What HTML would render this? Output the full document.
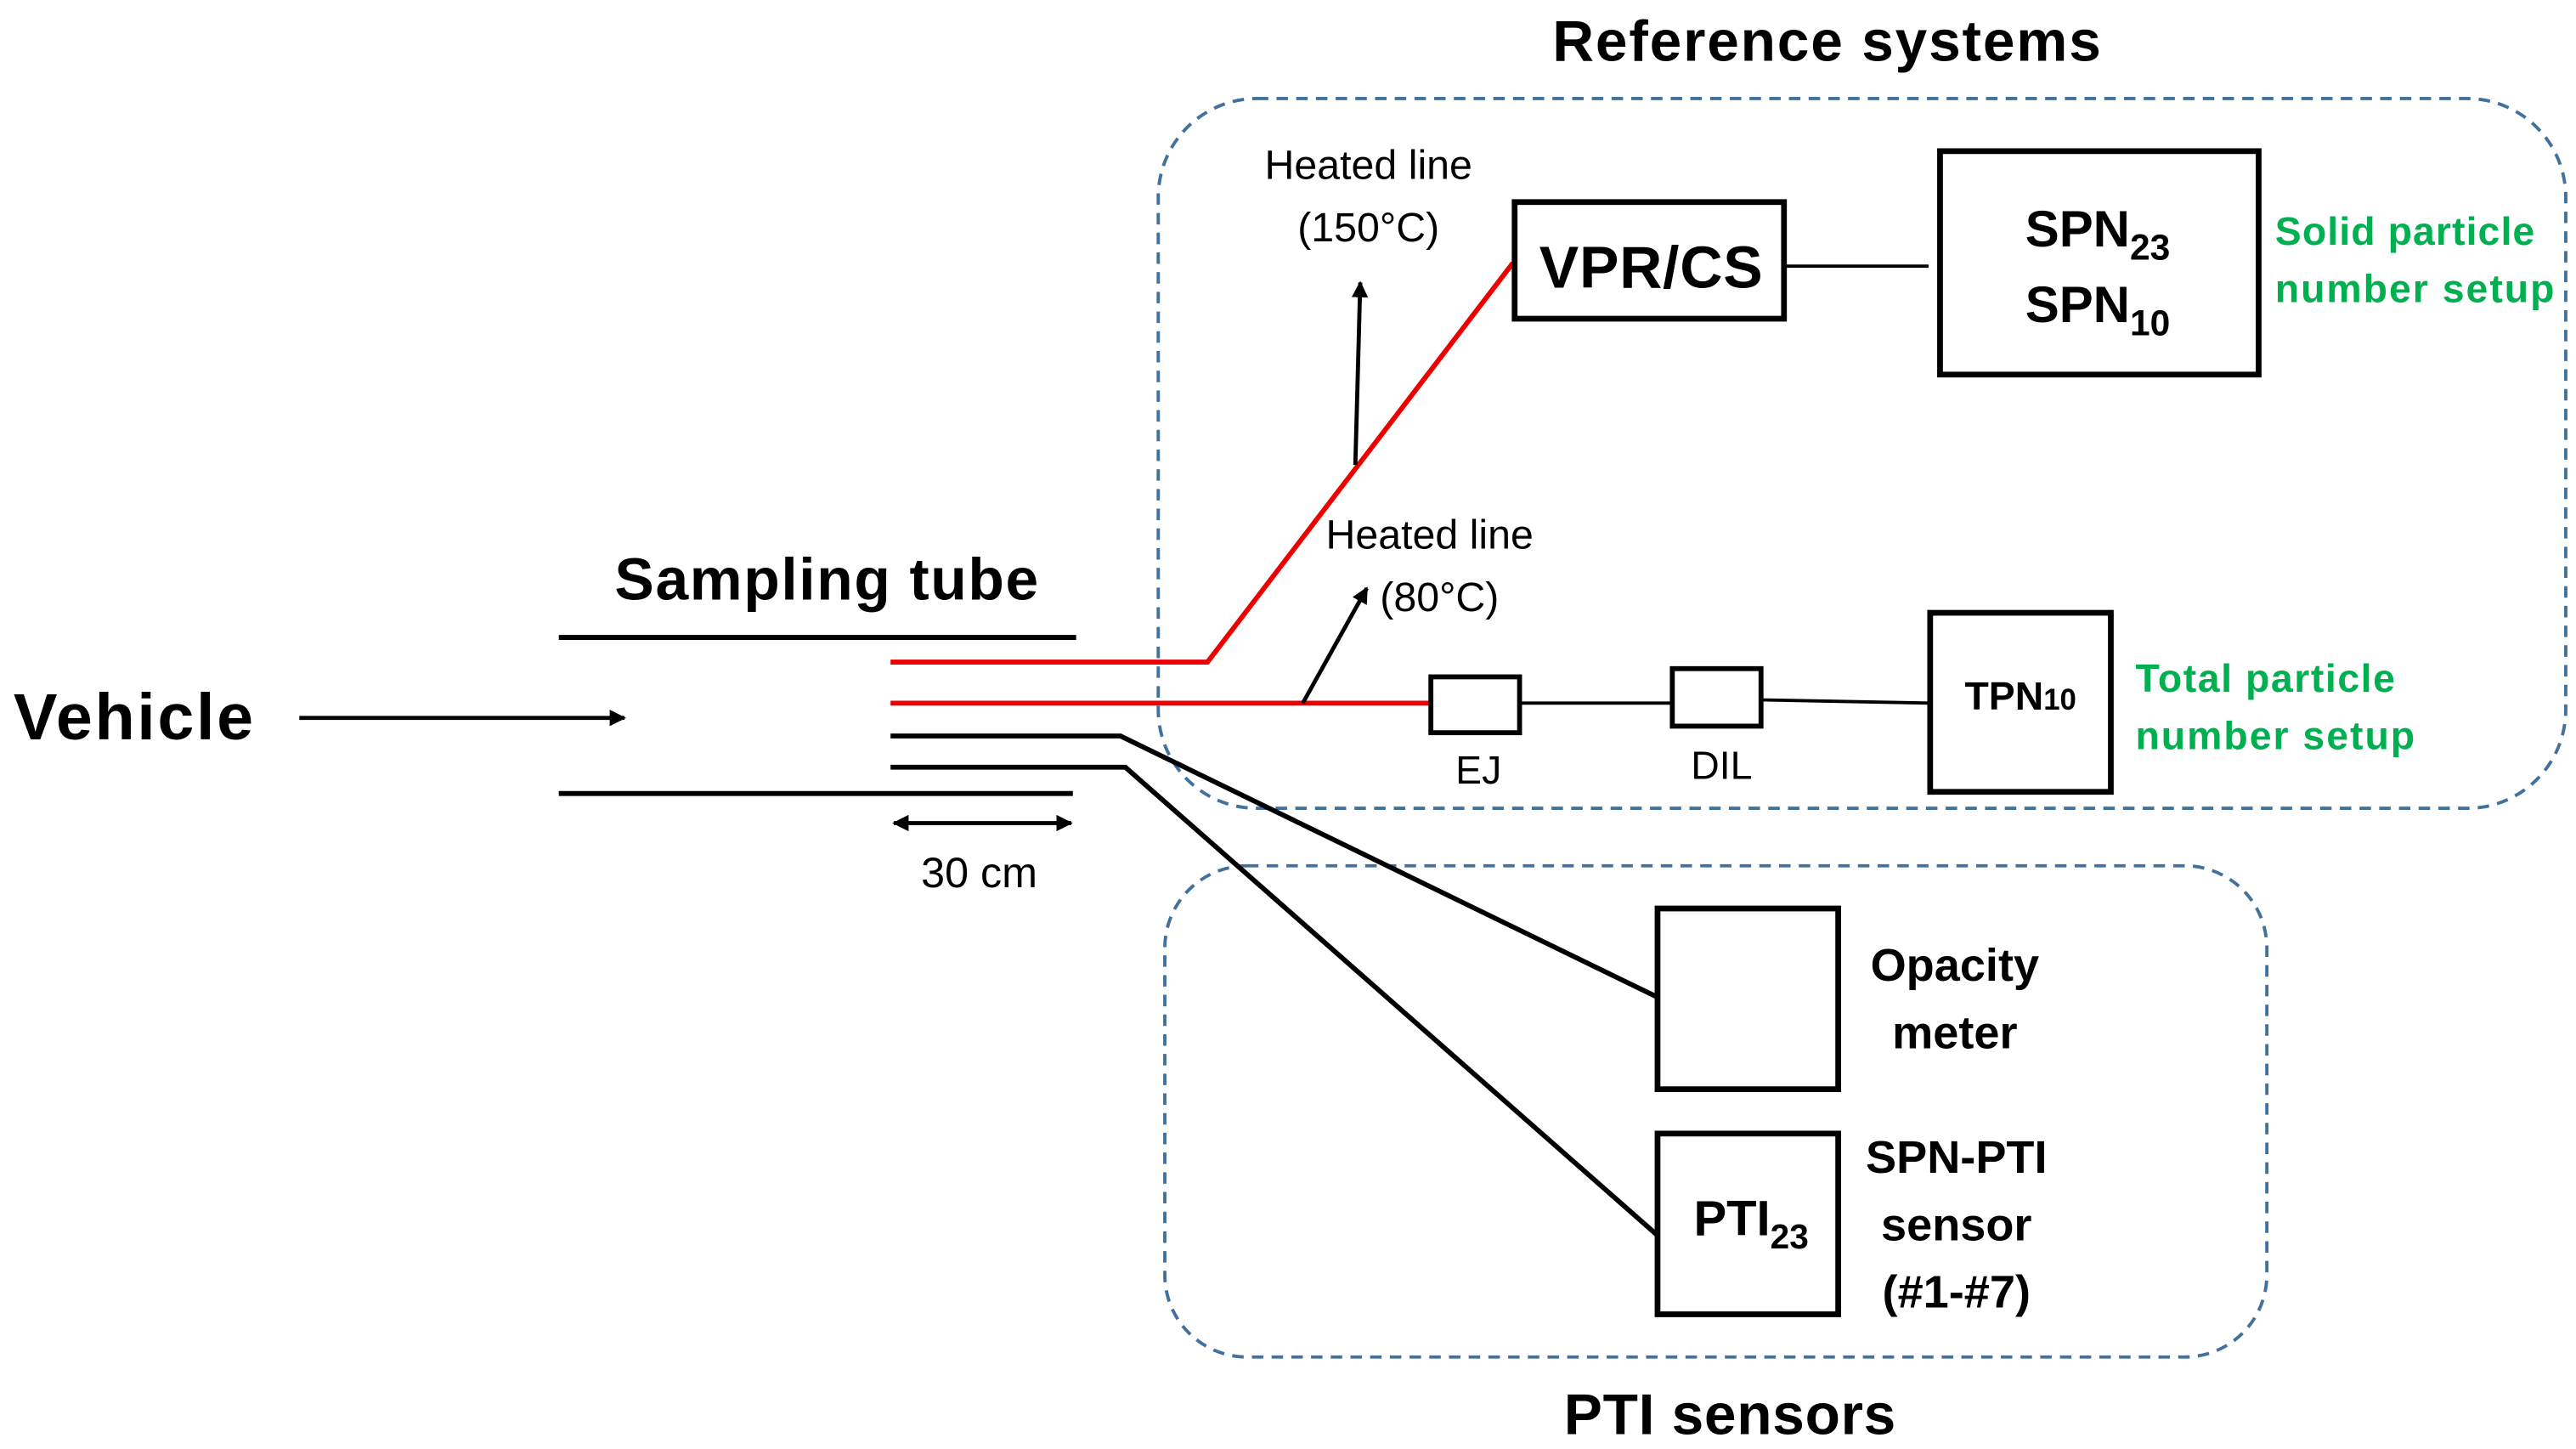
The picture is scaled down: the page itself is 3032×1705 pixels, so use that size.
<!DOCTYPE html>
<html><head><meta charset="utf-8"><style>
html,body{margin:0;padding:0;background:#fff;}
svg{display:block;}
text{font-family:"Liberation Sans","DejaVu Sans",sans-serif;}
.b{font-weight:bold;}
</style></head><body>
<svg width="3032" height="1705" viewBox="0 0 1568 882" xmlns="http://www.w3.org/2000/svg">
<defs>
<marker id="ah" markerWidth="10" markerHeight="10" refX="9" refY="5" orient="auto" markerUnits="userSpaceOnUse">
<path d="M0,0 L10,5 L0,10 Z" fill="#000"/></marker>
<marker id="ahs" markerWidth="10" markerHeight="10" refX="1" refY="5" orient="auto" markerUnits="userSpaceOnUse">
<path d="M10,0 L0,5 L10,10 Z" fill="#000"/></marker>
</defs>
<!-- dashed groups -->
<rect x="705" y="60" width="857" height="432" rx="60" fill="none" stroke="#41719c" stroke-width="2" stroke-dasharray="7,5"/>
<rect x="709" y="527" width="671" height="299" rx="50" fill="none" stroke="#41719c" stroke-width="2" stroke-dasharray="7,5"/>
<text x="1112" y="37" class="b" font-size="35" text-anchor="middle" textLength="334">Reference systems</text>
<text x="1053" y="873" class="b" font-size="35" text-anchor="middle" textLength="202">PTI sensors</text>
<!-- vehicle -->
<text x="8" y="450" class="b" font-size="40" textLength="146">Vehicle</text>
<line x1="182" y1="437" x2="380" y2="437" stroke="#000" stroke-width="2.5" marker-end="url(#ah)"/>
<text x="503" y="365" class="b" font-size="36" text-anchor="middle" textLength="258">Sampling tube</text>
<line x1="340" y1="388" x2="655" y2="388" stroke="#000" stroke-width="3"/>
<line x1="340" y1="483" x2="653" y2="483" stroke="#000" stroke-width="3"/>
<!-- lines -->
<polyline points="542,403 735,403 921,160" fill="none" stroke="#e00" stroke-width="3"/>
<line x1="542" y1="428" x2="871" y2="428" stroke="#e00" stroke-width="3"/>
<polyline points="542,448 682,448 1009,607" fill="none" stroke="#000" stroke-width="3"/>
<polyline points="542,467 685,467 1009,752" fill="none" stroke="#000" stroke-width="3"/>
<line x1="544" y1="501" x2="652" y2="501" stroke="#000" stroke-width="2.5" marker-start="url(#ahs)" marker-end="url(#ah)"/>
<text x="596" y="540" font-size="26" text-anchor="middle">30 cm</text>
<!-- heated lines -->
<line x1="825" y1="283" x2="828" y2="172" stroke="#000" stroke-width="2.5" marker-end="url(#ah)"/>
<text x="833" y="109" font-size="25" text-anchor="middle">Heated line</text>
<text x="833" y="147" font-size="25" text-anchor="middle">(150°C)</text>
<line x1="793" y1="428" x2="832" y2="358" stroke="#000" stroke-width="2.5" marker-end="url(#ah)"/>
<text x="807" y="334" font-size="25">Heated line</text>
<text x="840" y="372" font-size="25">(80°C)</text>
<!-- VPR -->
<rect x="922" y="123" width="164" height="71" fill="none" stroke="#000" stroke-width="3.5"/>
<text x="1005" y="175" class="b" font-size="36" text-anchor="middle" textLength="136">VPR/CS</text>
<line x1="1086" y1="162" x2="1174" y2="162" stroke="#000" stroke-width="2"/>
<rect x="1181" y="92" width="194" height="136" fill="none" stroke="#000" stroke-width="3.5"/>
<text x="1277" y="150" class="b" font-size="31" text-anchor="middle">SPN<tspan font-size="22" dy="8">23</tspan></text>
<text x="1277" y="196" class="b" font-size="31" text-anchor="middle">SPN<tspan font-size="22" dy="8">10</tspan></text>
<text x="1385" y="149" class="b" font-size="24" fill="#00b050" textLength="158">Solid particle</text>
<text x="1385" y="184" class="b" font-size="24" fill="#00b050" textLength="170">number setup</text>
<!-- TPN -->
<rect x="871" y="412" width="54" height="34" fill="none" stroke="#000" stroke-width="3"/>
<text x="900" y="477" font-size="24" text-anchor="middle">EJ</text>
<line x1="925" y1="428" x2="1018" y2="428" stroke="#000" stroke-width="2"/>
<rect x="1018" y="407" width="54" height="35" fill="none" stroke="#000" stroke-width="3"/>
<text x="1048" y="474" font-size="24" text-anchor="middle">DIL</text>
<line x1="1072" y1="426" x2="1175" y2="428" stroke="#000" stroke-width="2"/>
<rect x="1175" y="373" width="110" height="109" fill="none" stroke="#000" stroke-width="3.5"/>
<text x="1230" y="432" class="b" font-size="24" text-anchor="middle">TPN<tspan font-size="18">10</tspan></text>
<text x="1300" y="421" class="b" font-size="24" fill="#00b050" textLength="158">Total particle</text>
<text x="1300" y="456" class="b" font-size="24" fill="#00b050" textLength="170">number setup</text>
<!-- PTI -->
<rect x="1009" y="553" width="110" height="110" fill="none" stroke="#000" stroke-width="3.5"/>
<text x="1190" y="597" class="b" font-size="28" text-anchor="middle">Opacity</text>
<text x="1190" y="638" class="b" font-size="28" text-anchor="middle">meter</text>
<rect x="1009" y="690" width="110" height="110" fill="none" stroke="#000" stroke-width="3.5"/>
<text x="1066" y="752" class="b" font-size="30" text-anchor="middle">PTI<tspan font-size="21" dy="8">23</tspan></text>
<text x="1191" y="714" class="b" font-size="28" text-anchor="middle">SPN-PTI</text>
<text x="1191" y="755" class="b" font-size="28" text-anchor="middle">sensor</text>
<text x="1191" y="796" class="b" font-size="28" text-anchor="middle">(#1-#7)</text>
</svg>
</body></html>
